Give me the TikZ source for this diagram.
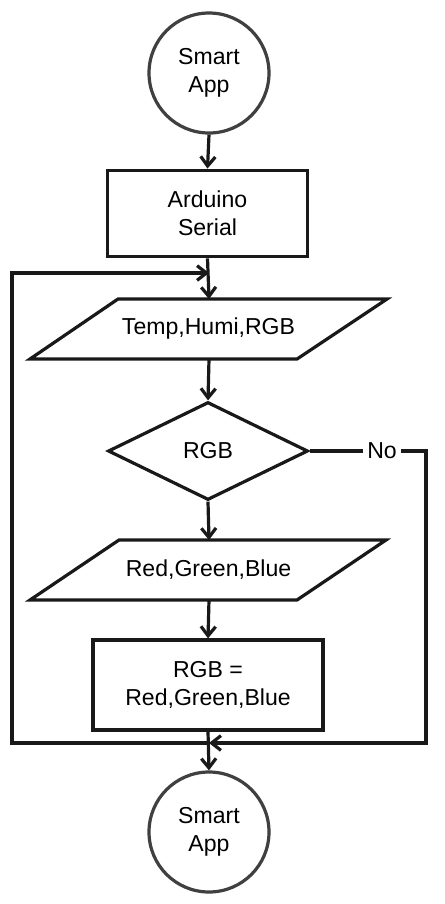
\documentclass[tikz,border=0pt]{standalone}
\usepackage{fontspec}
\setmainfont{Liberation Sans}
\usetikzlibrary{arrows.meta,shapes.geometric}
\begin{document}
\begin{tikzpicture}[x=0.75pt,y=-0.75pt,
  txt/.style={font=\fontsize{17.3}{21}\selectfont, align=center, text=black},
  ln/.style={line width=2.4pt, draw=black!90, line join=miter},
  arr/.style={ln, -{Straight Barb[length=7pt,width=11pt]}},
  term/.style={txt, circle, draw=black!75, line width=2.4pt, minimum size=90pt, inner sep=0pt},
  proc/.style={txt, rectangle, draw=black!90, line width=2.4pt, inner sep=0pt},
  dec/.style={txt, diamond, draw=black!90, line width=2.4pt, minimum width=150pt, minimum height=73.5pt, inner sep=0pt}
]
\useasboundingbox (0,0) rectangle (444,904);
\fill[white] (0,0) rectangle (444,904);

% terminals
\node[term] (s1) at (209,73) {Smart\\App};
\node[term] (s2) at (209,832) {Smart\\App};

% process boxes
\node[proc, minimum width=150pt, minimum height=65pt] (b1) at (207.5,213.5) {Arduino\\Serial};
\node[proc, minimum width=172.5pt, minimum height=67.5pt] (b2) at (208,685) {RGB =\\Red,Green,Blue};

% parallelograms
\coordinate (p1a) at (118,299); \coordinate (p1b) at (387,299);
\coordinate (p1c) at (297,359); \coordinate (p1d) at (30,359);
\coordinate (p1t) at (209,299); \coordinate (p1s) at (209,359);
\draw[ln] (p1a) -- (p1b) -- (p1c) -- (p1d) -- cycle;
\node[txt] (p1) at (208.5,329) {Temp,Humi,RGB};

\coordinate (p2a) at (119,540); \coordinate (p2b) at (386,540);
\coordinate (p2c) at (297,600); \coordinate (p2d) at (30,600);
\coordinate (p2t) at (209,540); \coordinate (p2s) at (209,600);
\draw[ln] (p2a) -- (p2b) -- (p2c) -- (p2d) -- cycle;
\node[txt] (p2) at (208.5,570) {Red,Green,Blue};

% decision
\node[dec] (d1) at (208,451) {RGB};

% junctions
\coordinate (jt) at (209,273);
\coordinate (jb) at (209,743);
\coordinate (lb) at (12,743);
\coordinate (lt) at (12,273);
\coordinate (rt) at (426,451);
\coordinate (rb) at (426,743);

% main flow
\draw[arr] (s1.south) -- (b1.north);
\draw[arr] (b1.south) -- (p1t);
\draw[arr] (p1s) -- (d1.north);
\draw[arr] (d1.south) -- (p2t);
\draw[arr] (p2s) -- (b2.north);
\draw[arr] (b2.south) -- (s2.north);

% loop back on the left
\draw[arr] (jb) -- (lb) -- (lt) -- (jt);

% No branch
\node[txt] (no) at (382,451) {No};
\draw[ln] (d1.east) -- (no.west);
\draw[arr] (no.east) -- (rt) -- (rb) -- (jb);
\end{tikzpicture}
\end{document}
